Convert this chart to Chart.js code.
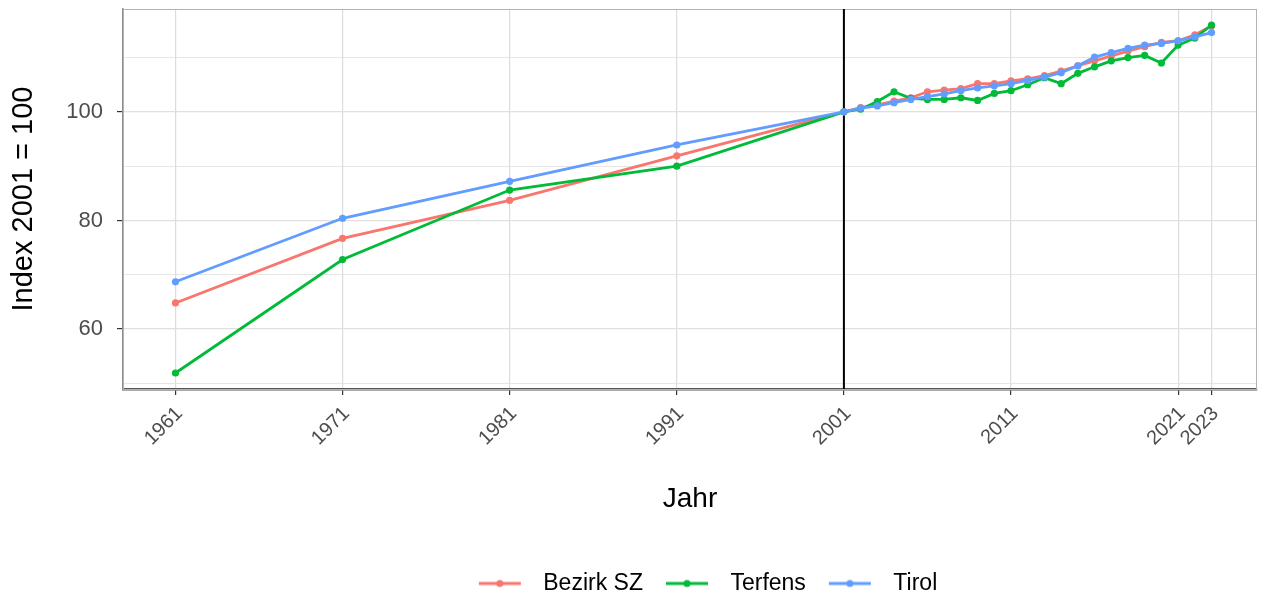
<!DOCTYPE html>
<html lang="de">
<head>
    <meta charset="UTF-8">
    <title>Bevölkerungsindex 2001 = 100</title>
    <script src="https://cdn.jsdelivr.net/npm/chart.js"></script>
    <style>
        html, body {
            margin: 0;
            padding: 0;
            background: white;
        }
        .chart-box {
            width: 1261px;
            height: 593px;
        }
    </style>
</head>
<body>
    <div class="chart-box">
        <canvas id="indexChart"></canvas>
    </div>

    <script>
        // Werte (Index 2001 = 100)
        const years = [1961, 1971, 1981, 1991, 2001,
            2002, 2003, 2004, 2005, 2006, 2007, 2008, 2009, 2010, 2011,
            2012, 2013, 2014, 2015, 2016, 2017, 2018, 2019, 2020, 2021, 2022, 2023];

        const bezirkSZ = [64.8, 76.7, 83.7, 91.9, 100,
            100.8, 101.3, 102.0, 102.6, 103.7, 104.0, 104.3, 105.2, 105.2, 105.7,
            106.1, 106.7, 107.5, 108.5, 109.4, 110.3, 111.2, 112.0, 112.8, 113.1, 114.2, 115.8];

        const terfens = [51.9, 72.8, 85.6, 90.0, 100,
            100.5, 101.9, 103.7, 102.5, 102.3, 102.3, 102.6, 102.1, 103.4, 103.9,
            105.0, 106.3, 105.2, 107.1, 108.3, 109.4, 110.0, 110.4, 109.0, 112.3, 113.6, 116.0];

        const tirol = [68.7, 80.4, 87.2, 93.9, 100,
            100.7, 101.1, 101.7, 102.3, 102.8, 103.3, 103.9, 104.4, 104.8, 105.2,
            105.8, 106.4, 107.2, 108.5, 110.1, 110.9, 111.7, 112.3, 112.6, 113.1, 113.8, 114.6];

        const xTicks = [1961, 1971, 1981, 1991, 2001, 2011, 2021, 2023];
        const yTicks = [50, 60, 70, 80, 90, 100, 110];
        const yLabels = [60, 80, 100];
        const refYear = 2001;

        const FONT = '"Liberation Sans", Arial, sans-serif';
        const legendShift = 72;

        function toPoints(values) {
            return years.map((y, i) => ({ x: y, y: values[i] }));
        }

        // kleine Legenden-Symbole: Linie mit Punkt
        function legendSymbol(color) {
            const c = document.createElement('canvas');
            c.width = 66;
            c.height = 12;
            const g = c.getContext('2d');
            g.strokeStyle = color;
            g.lineWidth = 2.8;
            g.beginPath();
            g.moveTo(13, 6);
            g.lineTo(55, 6);
            g.stroke();
            g.fillStyle = color;
            g.beginPath();
            g.arc(34, 6, 3.5, 0, Math.PI * 2);
            g.fill();
            return c;
        }

        // Rahmen + vertikale Linie bei 2001, Legende etwas nach rechts
        const panelPlugin = {
            id: 'panel',
            afterLayout(chart) {
                if (chart.legend) {
                    chart.legend.left += legendShift;
                    chart.legend.right += legendShift;
                }
            },
            beforeDatasetsDraw(chart) {
                const { ctx, chartArea, scales } = chart;
                ctx.save();
                ctx.strokeStyle = '#b3b3b3';
                ctx.lineWidth = 1;
                ctx.strokeRect(chartArea.left + 0.5, chartArea.top + 0.5,
                    chartArea.right - chartArea.left - 1, chartArea.bottom - chartArea.top);
                const x = scales.x.getPixelForValue(refYear);
                ctx.strokeStyle = '#000';
                ctx.lineWidth = 2;
                ctx.beginPath();
                ctx.moveTo(x, chartArea.top);
                ctx.lineTo(x, chartArea.bottom);
                ctx.stroke();
                ctx.restore();
            }
        };

        const series = [
            { label: 'Bezirk SZ', data: bezirkSZ, color: '#F8766D', order: 3 },
            { label: 'Terfens', data: terfens, color: '#00BA38', order: 2 },
            { label: 'Tirol', data: tirol, color: '#619CFF', order: 1 }
        ];

        const ctx = document.getElementById('indexChart').getContext('2d');
        const chart = new Chart(ctx, {
            type: 'line',
            data: {
                datasets: series.map(s => ({
                    label: s.label,
                    data: toPoints(s.data),
                    borderColor: s.color,
                    backgroundColor: s.color,
                    borderWidth: 2.8,
                    pointRadius: 3.6,
                    pointBorderWidth: 0,
                    pointStyle: 'circle',
                    tension: 0,
                    order: s.order,
                    legendImg: legendSymbol(s.color)
                }))
            },
            options: {
                responsive: true,
                maintainAspectRatio: false,
                animation: false,
                layout: {
                    padding: { top: 9, right: 2, left: 0, bottom: -12 }
                },
                plugins: {
                    tooltip: { enabled: false },
                    legend: {
                        position: 'bottom',
                        labels: {
                            usePointStyle: true,
                            pointStyleWidth: 66,
                            boxHeight: 12,
                            padding: 10,
                            color: '#000',
                            font: { family: FONT, size: 23, lineHeight: 1 },
                            sort: (a, b) => a.datasetIndex - b.datasetIndex,
                            generateLabels(chart) {
                                return chart.data.datasets.map((ds, i) => ({
                                    text: ds.label,
                                    fillStyle: ds.borderColor,
                                    strokeStyle: ds.borderColor,
                                    pointStyle: ds.legendImg,
                                    fontColor: '#000',
                                    lineWidth: 0,
                                    hidden: false,
                                    datasetIndex: i
                                }));
                            }
                        }
                    }
                },
                scales: {
                    x: {
                        type: 'linear',
                        min: 1957.86,
                        max: 2025.72,
                        afterBuildTicks(scale) {
                            scale.ticks = xTicks.map(v => ({ value: v }));
                        },
                        afterFit(scale) {
                            scale.height = 173;
                            scale.paddingLeft = 0;
                            scale.paddingRight = 0;
                        },
                        ticks: {
                            autoSkip: false,
                            maxRotation: 45,
                            minRotation: 45,
                            padding: 7,
                            labelOffset: 4,
                            color: '#4d4d4d',
                            font: { family: FONT, size: 20 },
                            callback: v => String(v)
                        },
                        grid: {
                            color: '#dcdcdc',
                            lineWidth: 1.2,
                            tickColor: '#333',
                            tickLength: 6
                        },
                        border: { display: true, color: '#555', width: 2.5 },
                        title: {
                            display: true,
                            text: 'Jahr',
                            color: '#000',
                            font: { family: FONT, size: 28 },
                            padding: { top: 0, bottom: 46 }
                        }
                    },
                    y: {
                        type: 'linear',
                        min: 48.95,
                        max: 118.95,
                        afterBuildTicks(scale) {
                            scale.ticks = yTicks.map(v => ({ value: v }));
                        },
                        afterFit(scale) {
                            scale.width = 123;
                            scale.paddingTop = 0;
                            scale.paddingBottom = 0;
                        },
                        ticks: {
                            padding: 14,
                            color: '#4d4d4d',
                            font: { family: FONT, size: 22 },
                            callback: v => (yLabels.includes(v) ? String(v) : '')
                        },
                        grid: {
                            color: '#e0e0e0',
                            lineWidth: c => (yLabels.includes(c.tick && c.tick.value) ? 1.2 : 0.8),
                            tickColor: c => (yLabels.includes(c.tick && c.tick.value) ? '#333' : 'rgba(0,0,0,0)'),
                            tickLength: 6
                        },
                        border: { display: true, color: '#8c8c8c', width: 1.5 },
                        title: {
                            display: true,
                            text: 'Index 2001 = 100',
                            color: '#000',
                            font: { family: FONT, size: 29 },
                            padding: { top: 7, bottom: 0 }
                        }
                    }
                }
            },
            plugins: [panelPlugin]
        });
    </script>
</body>
</html>
